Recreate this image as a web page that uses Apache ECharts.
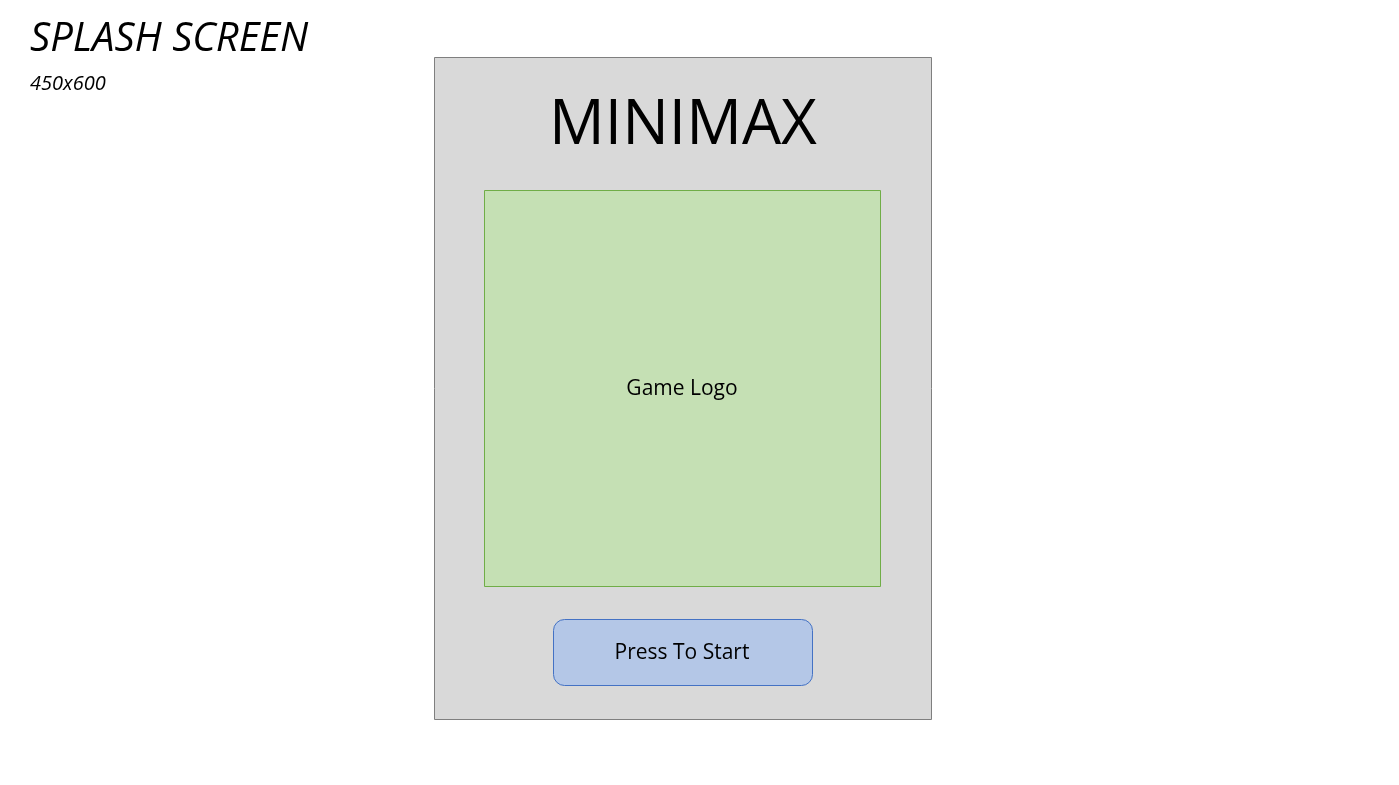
<!DOCTYPE html>
<html><head><meta charset="utf-8">
<script src="https://cdn.jsdelivr.net/npm/echarts@6/dist/echarts.min.js"></script>
<style>html,body{margin:0;padding:0;background:#fff}#c{width:1399px;height:785px}</style>
</head><body><div id="c"></div>
<script>
const pageTitle = ["SPLASH SCREEN", "450x600"];
const screenLabels = ["MINIMAX", "Game Logo", "Press To Start"];
const chart = echarts.init(document.getElementById('c'));
const F = "'Open Sans', 'Noto Sans', sans-serif";
chart.setOption({
  graphic: [
    {type:'text', left:30, top:20, style:{text:pageTitle[0], font:'italic 40px '+F, fill:'#000'}},
    {type:'text', left:30, top:74, style:{text:pageTitle[1], font:'italic 20px '+F, fill:'#000'}},
    {type:'rect', shape:{x:434.5,y:57.5,width:497,height:662}, style:{fill:'#d9d9d9', stroke:'#7f7f7f', lineWidth:1}},
    {type:'text', x:683, y:126, style:{text:screenLabels[0], font:'62px '+F, fill:'#000', align:'center', verticalAlign:'middle'}},
    {type:'rect', shape:{x:484.5,y:190.5,width:396,height:396}, style:{fill:'#c5e0b4', stroke:'#70ad47', lineWidth:1}},
    {type:'text', x:682, y:389, style:{text:screenLabels[1], font:'21px '+F, fill:'#000', align:'center', verticalAlign:'middle'}},
    {type:'rect', shape:{x:553.5,y:619.5,width:259,height:66,r:11}, style:{fill:'#b4c7e7', stroke:'#4472c4', lineWidth:1}},
    {type:'text', x:682, y:653, style:{text:screenLabels[2], font:'21px '+F, fill:'#000', align:'center', verticalAlign:'middle'}}
  ]
});
</script></body></html>
